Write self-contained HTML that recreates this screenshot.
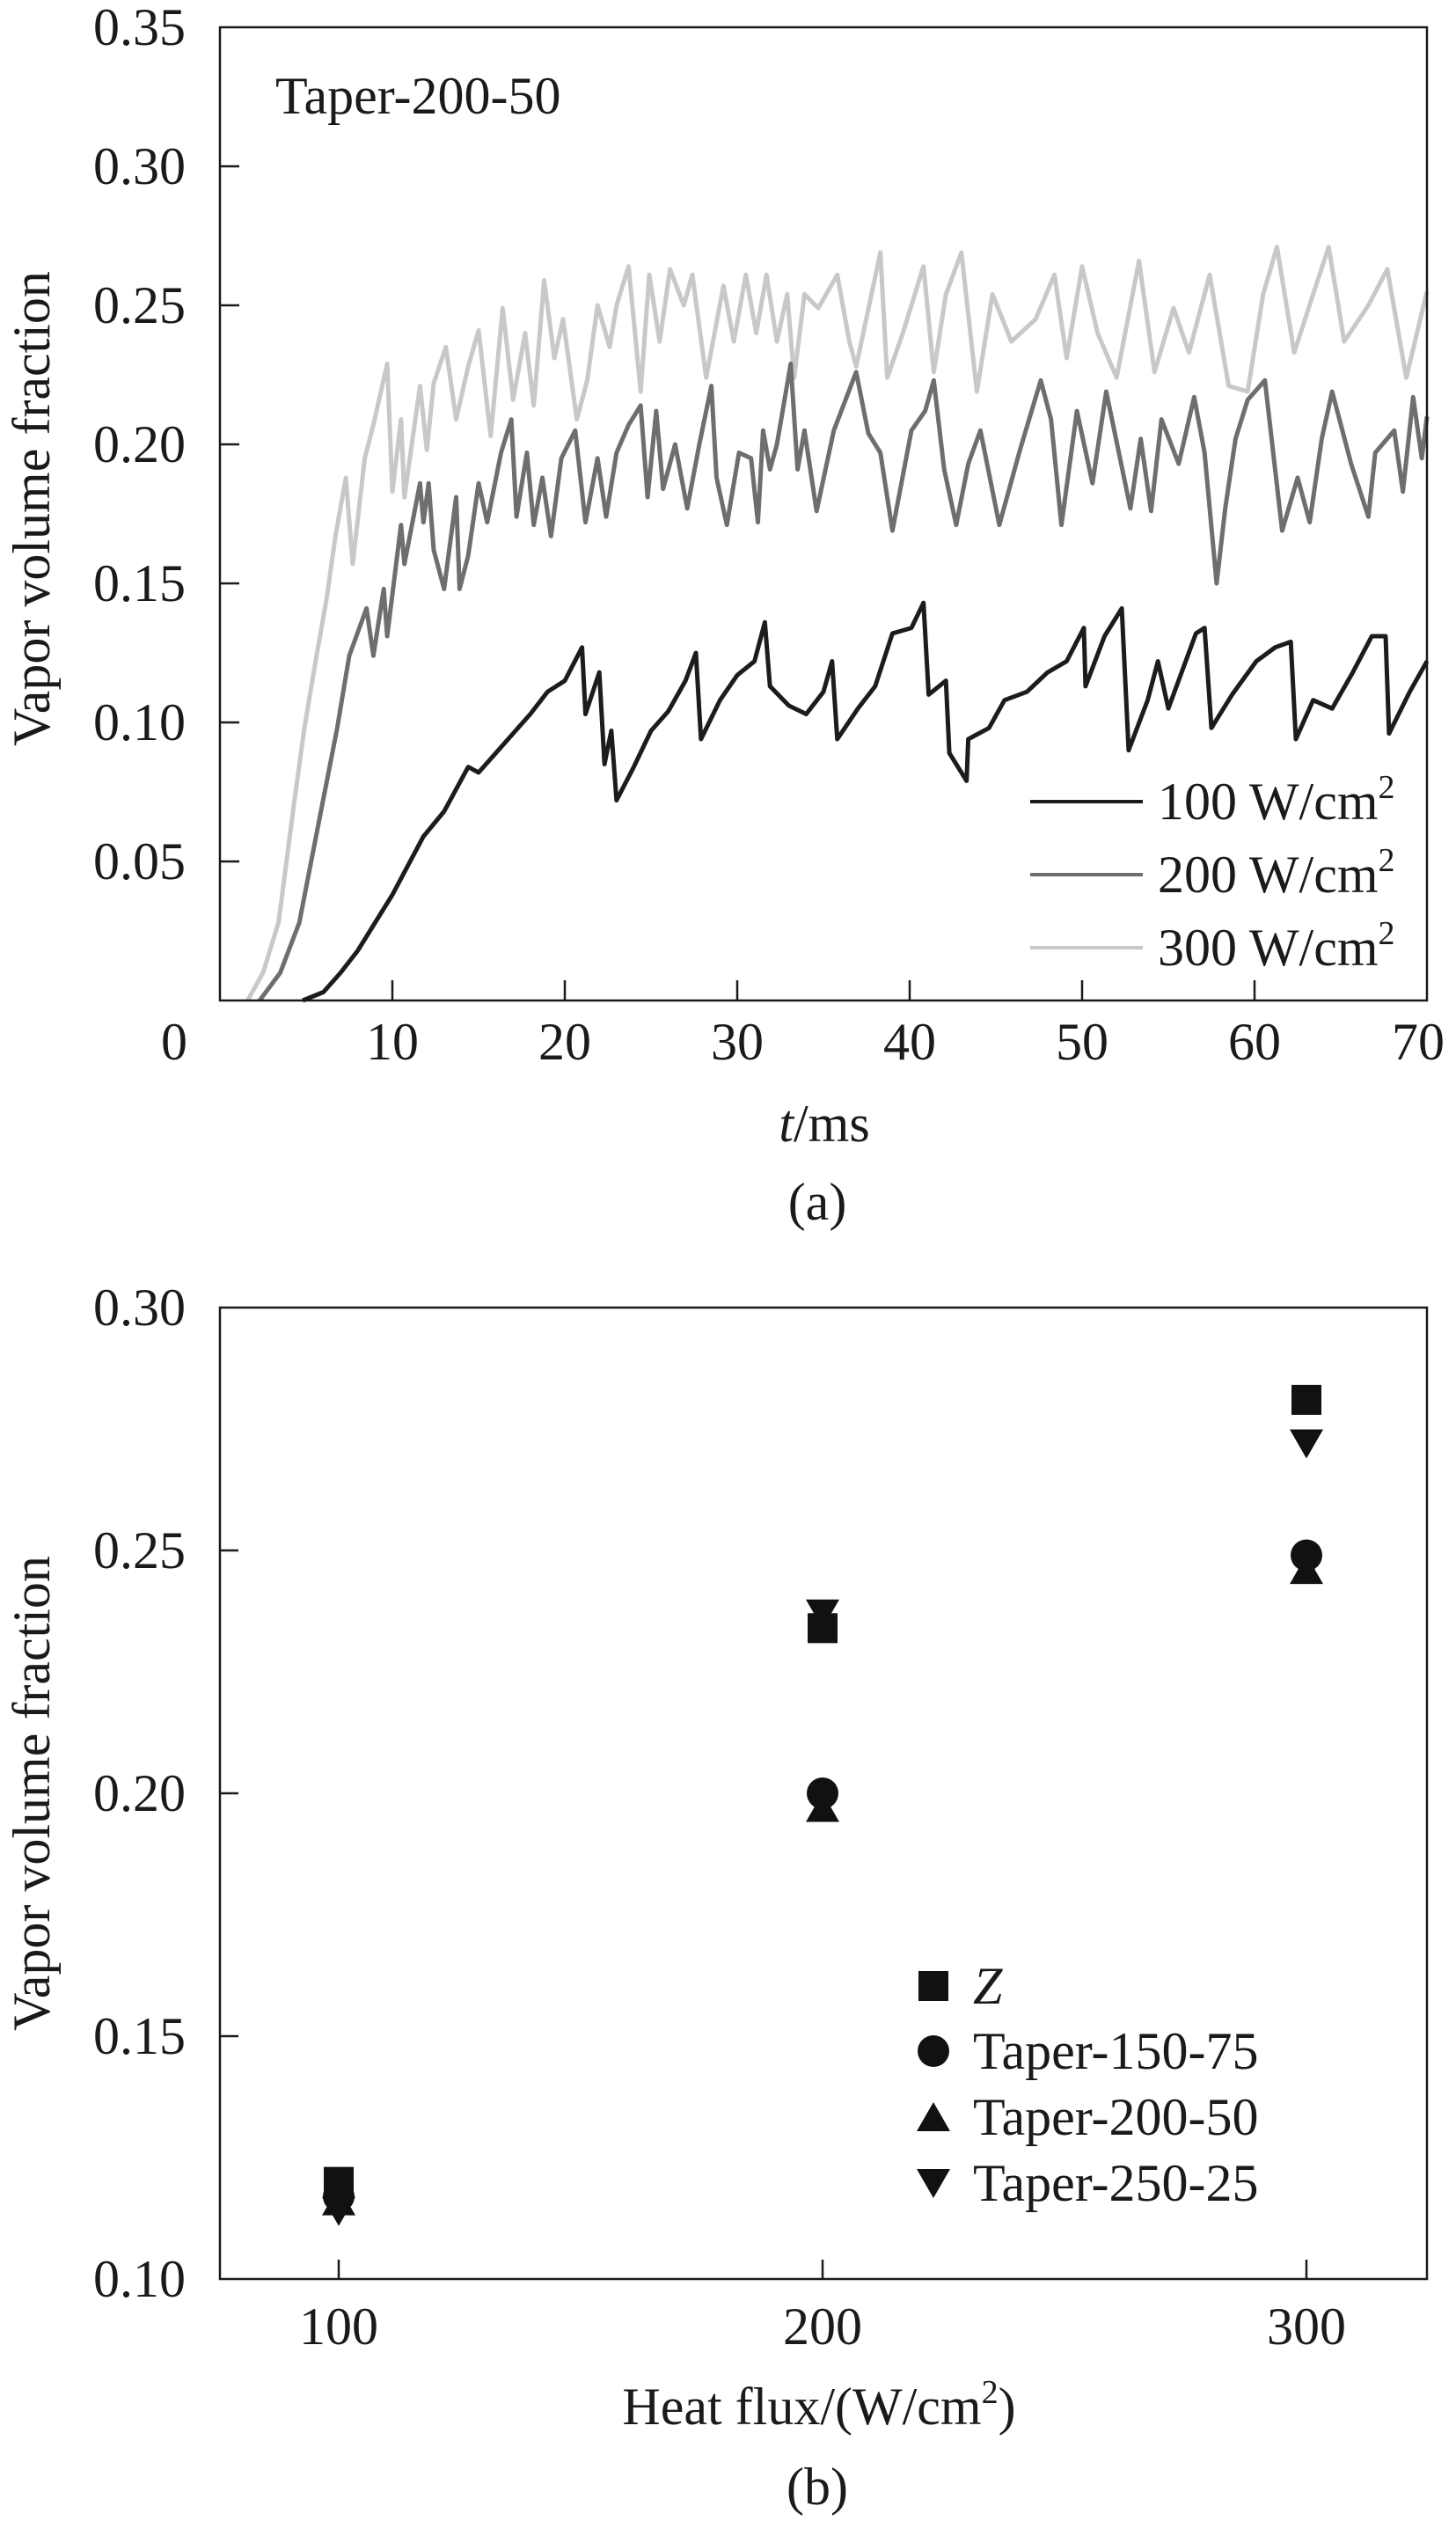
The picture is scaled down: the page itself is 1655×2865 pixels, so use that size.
<!DOCTYPE html>
<html><head><meta charset="utf-8">
<style>
html,body{margin:0;padding:0;background:#fff;}
svg{display:block;}
svg text{font-family:"Liberation Serif","DejaVu Serif",serif !important;fill:#1a1a1a;}
</style></head>
<body>
<svg id="fig" width="1655" height="2865" viewBox="0 0 1655 2865" xmlns="http://www.w3.org/2000/svg" font-family="Liberation Serif, DejaVu Serif, serif">
<g id="chartA"></g>
<g id="chartB"></g>
</svg>
<script>
// ---------- Chart (a) data ----------
const yTicksA = [0.05,0.10,0.15,0.20,0.25,0.30,0.35];
const yTickLabelsA = ["0.05","0.10","0.15","0.20","0.25","0.30","0.35"];
const xTicksA = [10,20,30,40,50,60,70];
const xTickLabelsA = ["10","20","30","40","50","60","70"];

const t100 = [4.8,6,7,8,9,10, 11.8,13,14.4,15,16, 17,18,19,20,21, 21.2,22,22.3,22.7,23, 24,25,26,27,27.6, 27.9,29,30,31,31.6, 31.9,33,34,35,35.5, 35.8,37,38,39,40.1, 40.8,41.1,42.1,42.3,43.3, 43.4,44.6,45.5,46.8,48, 49.1,50.1,50.2,51.3,52.3, 52.7,53.8,54.4,55,56.6, 57.1,57.5,58.7,60.1,61.2, 62.1,62.4,63.4,64.5,65.7, 66.8,67.6,67.8,69,70];
const v100 = [0,0.003,0.01,0.018,0.028,0.038, 0.059,0.068,0.084,0.082,0.089, 0.096,0.103,0.111,0.115,0.127, 0.103,0.118,0.085,0.097,0.072, 0.084,0.097,0.104,0.115,0.125, 0.094,0.108,0.117,0.122,0.136, 0.113,0.106,0.103,0.111,0.122, 0.094,0.105,0.113,0.132,0.134, 0.143,0.110,0.115,0.089,0.079, 0.094,0.098,0.108,0.111,0.118, 0.122,0.134,0.113,0.131,0.141, 0.090,0.108,0.122,0.105,0.132, 0.134,0.098,0.110,0.122,0.127, 0.129,0.094,0.108,0.105,0.118, 0.131,0.131,0.096,0.111,0.122];

const t200 = [2.3,3.5,4.6,5.7,6.8,7.5, 8.5,8.9,9.5,9.7,10.5, 10.7,11.6,11.8,12.1,12.4, 13,13.7,13.9,14.4,15, 15.5,16.3,16.9,17.2,17.8, 18.2,18.7,19.2,19.8,20.6, 21.2,21.9,22.4,23,23.7, 24.4,24.8,25.3,25.7,26.4, 27.1,27.8,28.5,28.8,29.4, 30.1,30.8,31.2,31.5,31.9, 32.3,33.1,33.5,33.9,34.6, 35.6,36.9,37.6,38.3,39, 40.1,40.9,41.4,42,42.7, 43.4,44.1,45.2,46.4,47.6, 48.2,48.8,49.7,50.6,51.4, 52.8,53.4,54,54.6,55.6, 56.5,57.1,57.8,58.3,58.9, 59.6,60.6,61.6,62.5,63.2, 63.9,64.5,65.6,66.6,67, 68.1,68.6,69.2,69.7,70];
const v200 = [0,0.01,0.028,0.063,0.098,0.124, 0.141,0.124,0.148,0.131,0.171, 0.157,0.186,0.172,0.186,0.162, 0.148,0.181,0.148,0.160,0.186, 0.172,0.197,0.209,0.174,0.197, 0.171,0.188,0.167,0.195,0.205, 0.172,0.195,0.174,0.197,0.207, 0.214,0.181,0.212,0.184,0.200, 0.177,0.200,0.221,0.188,0.171, 0.197,0.195,0.172,0.205,0.191, 0.200,0.229,0.191,0.205,0.176, 0.205,0.226,0.204,0.197,0.169, 0.205,0.212,0.223,0.191,0.171, 0.193,0.205,0.171,0.198,0.223, 0.209,0.171,0.212,0.186,0.219, 0.177,0.202,0.176,0.209,0.193, 0.217,0.197,0.150,0.177,0.202, 0.216,0.223,0.169,0.188,0.172, 0.202,0.219,0.193,0.174,0.197, 0.205,0.183,0.217,0.195,0.210];

const t300 = [1.6,2.5,3.4,4.3,4.9, 5.6,6.2,6.7,7.3,7.7, 8.4,8.9,9.7,10,10.5, 10.7,11.6,12,12.4,13.1, 13.7,14.4,15,15.7,16.4, 17,17.7,18.2,18.8,19.4, 19.9,20.7,21.3,21.9,22.6, 23,23.7,24.4,24.9,25.5, 26.1,26.9,27.4,28.2,29.2, 29.8,30.5,31.1,31.7,32.3, 32.9,33.3,33.9,34.7,35.8, 36.5,36.9,38.3,38.7,39.6, 40.8,41.4,42.1,43,43.9, 44.8,45.9,47.3,48.4,49.1, 50,50.9,52,53.3,54.2, 55.3,56.2,57.4,58.5,59.6, 60.5,61.3,62.3,63.4,64.3, 65.2,66.6,67.7,68.8,70];
const v300 = [0,0.01,0.028,0.071,0.098, 0.124,0.145,0.167,0.188,0.157, 0.195,0.207,0.229,0.183,0.209, 0.181,0.221,0.198,0.222,0.235, 0.209,0.228,0.241,0.203,0.249, 0.216,0.240,0.214,0.259,0.231, 0.245,0.209,0.223,0.250,0.235, 0.250,0.264,0.219,0.261,0.237, 0.263,0.250,0.261,0.224,0.257, 0.237,0.261,0.240,0.261,0.237, 0.254,0.224,0.254,0.249,0.261, 0.237,0.228,0.269,0.224,0.240, 0.264,0.226,0.254,0.269,0.219, 0.254,0.237,0.245,0.261,0.231, 0.264,0.240,0.224,0.266,0.226, 0.249,0.233,0.261,0.221,0.219, 0.254,0.271,0.233,0.254,0.271, 0.237,0.250,0.263,0.224,0.255];

// ---------- Chart (b) data ----------
const fluxes = [100,200,300];
const fluxLabels = ["100","200","300"];
const yTicksB = [0.10,0.15,0.20,0.25,0.30];
const yTickLabelsB = ["0.10","0.15","0.20","0.25","0.30"];
const valsZ = [0.120,0.234,0.281];
const vals15075 = [0.117,0.200,0.249];
const vals20050 = [0.116,0.197,0.246];
const vals25025 = [0.114,0.237,0.272];

const NS = "http://www.w3.org/2000/svg";
const SERIF = "Liberation Serif, DejaVu Serif, serif";
function mk(parent, tag, attrs, txt){
  const e = document.createElementNS(NS, tag);
  for (const k in attrs) e.setAttribute(k, attrs[k]);
  if (tag==='text') e.setAttribute('font-family', SERIF);
  if (txt !== undefined) e.textContent = txt;
  parent.appendChild(e);
  return e;
}

// ===== Chart A =====
const A = document.getElementById('chartA');
const aL=250, aR=1622, aT=31, aB=1137;
const xA = t => aL + (t/70)*(aR-aL);
const yA = v => aB - (v/0.35)*(aB-aT);

const seriesA = [[t300,v300,'#c8c8c8','series-300'],[t200,v200,'#6e6e6e','series-200'],[t100,v100,'#1c1c1c','series-100']];
seriesA.forEach(s=>{
  const n=Math.min(s[0].length,s[1].length);
  let d='';
  for(let i=0;i<n;i++){ d += (i?'L':'M') + xA(s[0][i]).toFixed(1)+','+yA(s[1][i]).toFixed(1); }
  const p = mk(A,'path',{d:d,fill:'none',stroke:s[2],'stroke-width':5,'stroke-linejoin':'round'});
  
  
});

const fA = mk(A,'rect',{x:aL,y:aT,width:aR-aL,height:aB-aT,fill:'none',stroke:'#1a1a1a','stroke-width':2.5});



yTicksA.forEach((v,i)=>{
  const y=yA(v);
  if(v<0.35){ const tk=mk(A,'line',{x1:aL,x2:aL+22,y1:y,y2:y,stroke:'#1a1a1a','stroke-width':2.5});
    
     }
  const tl=mk(A,'text',{x:211,y:y+20,'text-anchor':'end','font-size':60},yTickLabelsA[i]);
  
  
});
xTicksA.forEach((t,i)=>{
  const x=xA(t);
  if(t<70){ const tk=mk(A,'line',{x1:x,x2:x,y1:aB,y2:aB-23,stroke:'#1a1a1a','stroke-width':2.5});
    
     }
  const tl=mk(A,'text',{x:(t===70?x-10:x),y:1204,'text-anchor':'middle','font-size':60},xTickLabelsA[i]);
  
  
});
const zero=mk(A,'text',{x:198,y:1204,'text-anchor':'middle','font-size':60},'0');



const legA=[['100','#1c1c1c'],['200','#6e6e6e'],['300','#c8c8c8']];
const legY=[911,994,1077];
legA.forEach((l,i)=>{
  const ln=mk(A,'line',{x1:1171,x2:1299,y1:legY[i],y2:legY[i],stroke:l[1],'stroke-width':4});
  
  
  const tx=mk(A,'text',{x:1316,y:legY[i]+20,'font-size':60});
  
  
  tx.textContent=l[0]+' W/cm';
  mk(tx,'tspan',{'font-size':38,dy:-24},'2');
});
</script>
<script>
(function(){
const A=document.getElementById('chartA');
const B=document.getElementById('chartB');
const NS="http://www.w3.org/2000/svg";
const SERIF="Liberation Serif, DejaVu Serif, serif";
function t(parent,attrs,txt,name){
  const e=document.createElementNS(NS,'text');
  for(const k in attrs) e.setAttribute(k,attrs[k]);
  e.setAttribute('font-family',SERIF);
  e.textContent=txt;
  
  
  parent.appendChild(e); return e;
}
t(A,{x:313,y:129,'font-size':60},'Taper-200-50','series-annotation');
t(A,{x:0,y:0,'font-size':60,'text-anchor':'middle',transform:'translate(56,578) rotate(-90)'},'Vapor volume fraction','y-axis-title-a');
const xa=t(A,{x:937,y:1297,'font-size':60,'text-anchor':'middle'},'','x-axis-title-a');
const it=document.createElementNS(NS,'tspan'); it.setAttribute('font-style','italic'); it.textContent='t'; xa.appendChild(it);
const rest=document.createElementNS(NS,'tspan'); rest.textContent='/ms'; xa.appendChild(rest);
t(A,{x:929,y:1386,'font-size':60,'text-anchor':'middle'},'(a)','panel-label-a');

function mk(tag,attrs){const e=document.createElementNS(NS,tag);for(const k in attrs)e.setAttribute(k,attrs[k]);B.appendChild(e);return e;}
const bL=250,bR=1622,bT=1486,bB=2590;
const xB=f=>385+(f-100)*5.5;
const yB=v=>bB-(v-0.10)/0.20*(bB-bT);
const fr=mk('rect',{x:bL,y:bT,width:bR-bL,height:bB-bT,fill:'none',stroke:'#1a1a1a','stroke-width':2.5});


yTicksB.forEach((v,i)=>{
  const y=yB(v);
  if(v>0.10&&v<0.30){const tk=mk('line',{x1:bL,x2:bL+21,y1:y,y2:y,stroke:'#1a1a1a','stroke-width':2.5});
    
    }
  t(B,{x:211,y:y+20,'text-anchor':'end','font-size':60},yTickLabelsB[i],'y-tick-label-b');
});
fluxes.forEach((f,i)=>{
  const x=xB(f);
  const tk=mk('line',{x1:x,x2:x,y1:bB,y2:bB-22,stroke:'#1a1a1a','stroke-width':2.5});
  
  
  t(B,{x:x,y:2664,'text-anchor':'middle','font-size':60},fluxLabels[i],'x-tick-label-b');
});
t(B,{x:0,y:0,'font-size':60,'text-anchor':'middle',transform:'translate(56,2038) rotate(-90)'},'Vapor volume fraction','y-axis-title-b');
const xb=t(B,{x:931,y:2755,'font-size':60,'text-anchor':'middle'},'Heat flux/(W/cm','x-axis-title-b');
const sup=document.createElementNS(NS,'tspan');sup.setAttribute('font-size',38);sup.setAttribute('dy',-24);sup.textContent='2';xb.appendChild(sup);
const cl=document.createElementNS(NS,'tspan');cl.setAttribute('dy',24);cl.textContent=')';xb.appendChild(cl);
t(B,{x:929,y:2846,'font-size':60,'text-anchor':'middle'},'(b)','panel-label-b');

function marker(kind,cx,cy){
  let e;
  if(kind==='square') e=mk('rect',{x:cx-17,y:cy-17,width:34,height:34,fill:'#111'});
  else if(kind==='circle') e=mk('circle',{cx:cx,cy:cy,r:18,fill:'#111'});
  else if(kind==='up') e=mk('polygon',{points:`${cx-19},${cy+16} ${cx+19},${cy+16} ${cx},${cy-17}`,fill:'#111'});
  else e=mk('polygon',{points:`${cx-19},${cy-16} ${cx+19},${cy-16} ${cx},${cy+17}`,fill:'#111'});
  return e;
}
const seriesB=[['square',valsZ,'Z'],['circle',vals15075,'taper-150-75'],['up',vals20050,'taper-200-50'],['down',vals25025,'taper-250-25']];
seriesB.forEach(s=>{
  fluxes.forEach((f,i)=>{
    const m=marker(s[0],xB(f),yB(s[1][i]));
    
    
  });
});
const legLabels=['Z','Taper-150-75','Taper-200-50','Taper-250-25'];
const legRows=[2257,2331,2406,2481];
seriesB.forEach((s,i)=>{
  const m=marker(s[0],1061,legRows[i]);
  
  
  const attrs={x:1106,y:legRows[i]+20,'font-size':60};
  if(i===0) attrs['font-style']='italic';
  t(B,attrs,legLabels[i],'legend-label-'+s[2].toLowerCase());
});
})();
</script>
</body></html>
